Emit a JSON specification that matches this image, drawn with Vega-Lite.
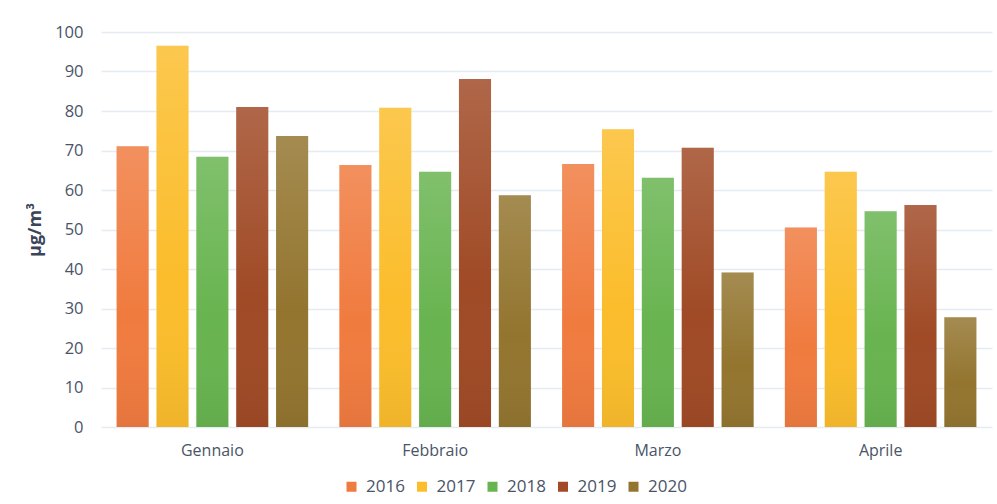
{
  "$schema": "https://vega.github.io/schema/vega-lite/v6.json",
  "width": 891,
  "height": 395,
  "autosize": {"type": "none"},
  "padding": {"left": 101, "top": 32, "right": 5, "bottom": 77},
  "background": "white",
  "config": {
    "view": {"stroke": null},
    "font": "Open Sans",
    "axis": {"labelColor": "#4a5468", "titleColor": "#3b4557"}
  },
  "data": {
    "values": [
      {"mese": "Gennaio", "anno": "2016", "valore": 71.1},
      {"mese": "Gennaio", "anno": "2017", "valore": 96.5},
      {"mese": "Gennaio", "anno": "2018", "valore": 68.4},
      {"mese": "Gennaio", "anno": "2019", "valore": 81.0},
      {"mese": "Gennaio", "anno": "2020", "valore": 73.7},
      {"mese": "Febbraio", "anno": "2016", "valore": 66.3},
      {"mese": "Febbraio", "anno": "2017", "valore": 80.8},
      {"mese": "Febbraio", "anno": "2018", "valore": 64.6},
      {"mese": "Febbraio", "anno": "2019", "valore": 88.1},
      {"mese": "Febbraio", "anno": "2020", "valore": 58.7},
      {"mese": "Marzo", "anno": "2016", "valore": 66.6},
      {"mese": "Marzo", "anno": "2017", "valore": 75.4},
      {"mese": "Marzo", "anno": "2018", "valore": 63.1},
      {"mese": "Marzo", "anno": "2019", "valore": 70.7},
      {"mese": "Marzo", "anno": "2020", "valore": 39.1},
      {"mese": "Aprile", "anno": "2016", "valore": 50.5},
      {"mese": "Aprile", "anno": "2017", "valore": 64.6},
      {"mese": "Aprile", "anno": "2018", "valore": 54.6},
      {"mese": "Aprile", "anno": "2019", "valore": 56.2},
      {"mese": "Aprile", "anno": "2020", "valore": 27.8}
    ]
  },
  "encoding": {
    "x": {
      "field": "mese", "type": "nominal", "sort": null,
      "scale": {"paddingInner": 0.14, "paddingOuter": 0.07},
      "axis": {"title": null, "labelAngle": 0, "ticks": false, "domain": false, "labelFontSize": 16, "labelPadding": 15}
    },
    "xOffset": {
      "field": "anno", "type": "nominal",
      "scale": {"domain": ["2016", "2017", "2018", "2019", "2020"], "paddingInner": 0.195, "paddingOuter": 0}
    },
    "y": {
      "field": "valore", "type": "quantitative",
      "scale": {"domain": [0, 100]},
      "axis": {"title": "µg/m³", "titleFontSize": 18, "titleFontWeight": "bold", "titlePadding": 10, "values": [0,10,20,30,40,50,60,70,80,90,100], "ticks": false, "domain": false, "labelFontSize": 16.5, "labelPadding": 18, "gridColor": "#e4ebf2", "gridWidth": 1.5}
    }
  },
  "layer": [
    {
      "mark": {"type": "bar"},
      "encoding": {
        "color": {
          "field": "anno", "type": "nominal",
          "scale": {
            "domain": ["2016", "2017", "2018", "2019", "2020"],
            "range": ["#f07b3f", "#fbbd2c", "#68b450", "#a04a26", "#93752f"]
          },
          "legend": {
            "title": null, "orient": "none", "direction": "horizontal",
            "legendX": 242, "legendY": 446, "padding": 0,
            "symbolType": "square", "symbolSize": 100, "labelFontSize": 17, "labelColor": "#4a5468",
            "labelOffset": 6, "columnPadding": 8.5, "symbolStrokeWidth": 0
          }
        }
      }
    },
    {
      "mark": {
        "type": "bar",
        "color": {"gradient": "linear", "x1": 0, "y1": 0, "x2": 0, "y2": 1,
          "stops": [{"offset": 0, "color": "rgba(255,255,255,0.16)"}, {"offset": 0.6, "color": "rgba(255,255,255,0.0)"}, {"offset": 1, "color": "rgba(0,0,0,0.05)"}]}
      }
    }
  ]
}
